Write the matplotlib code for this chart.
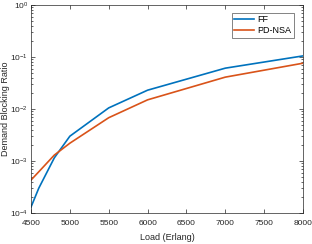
import matplotlib
matplotlib.use('Agg')
import matplotlib.pyplot as plt

plt.rcParams['font.family'] = ['Liberation Sans', 'DejaVu Sans']

load = [4500, 4600, 4800, 5000, 5500, 6000, 7000, 8000]
ff = [1.3e-4, 3.0e-4, 1.15e-3, 3.0e-3, 1.05e-2, 2.3e-2, 6.1e-2, 1.05e-1]
pdnsa = [4.3e-4, 6.2e-4, 1.3e-3, 2.2e-3, 6.8e-3, 1.5e-2, 4.1e-2, 7.6e-2]

fig = plt.figure(figsize=(3.12, 2.44), dpi=100)
ax = fig.add_axes([31 / 312, 31 / 244, 272 / 312, 208 / 244])

ax.plot(load, ff, color='#0072BD', linewidth=1.2, label='FF')
ax.plot(load, pdnsa, color='#D95319', linewidth=1.2, label='PD-NSA')

ax.set_yscale('log')
ax.set_xlim(4500, 8000)
ax.set_ylim(1e-4, 1)
ax.set_xticks([4500, 5000, 5500, 6000, 6500, 7000, 7500, 8000])
ax.set_yticks([1e-4, 1e-3, 1e-2, 1e-1, 1])
ax.tick_params(which='both', direction='in', top=True, right=True,
               labelsize=6, colors='#262626', width=0.5, pad=2)
ax.tick_params(axis='x', which='major', pad=5)
ax.tick_params(which='major', length=3)
ax.tick_params(which='minor', length=1.6)
for s in ax.spines.values():
    s.set_linewidth(0.5)
    s.set_color('#262626')

ax.set_xlabel('Load (Erlang)', fontsize=6.5, color='#262626', va='center')
ax.set_ylabel('Demand Blocking Ratio', fontsize=6.5, color='#262626', va='center')
ax.yaxis.set_label_coords((5.5 - 31) / 272, 0.5)
ax.xaxis.set_label_coords(0.5, (213 - 238) / 208)

leg = ax.legend(loc='upper right', fontsize=6.5, fancybox=False, edgecolor='#262626',
                handlelength=2.2, handletextpad=0.4, borderpad=0.3, labelspacing=0.2,
                bbox_to_anchor=(0.985, 0.985))
leg.get_frame().set_linewidth(0.5)

fig.savefig('out.png', dpi=100)
